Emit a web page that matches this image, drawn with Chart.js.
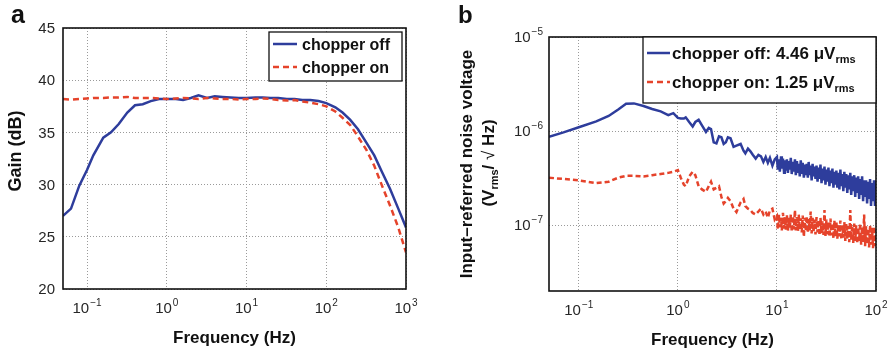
<!DOCTYPE html>
<html>
<head>
<meta charset="utf-8">
<script src="https://cdn.jsdelivr.net/npm/chart.js@4.4.0/dist/chart.umd.min.js"></script>
<style>
  html, body { margin: 0; padding: 0; background: #fff; }
  #wrap { position: relative; width: 892px; height: 354px; overflow: hidden; }
  #gainChart { position: absolute; left: 0; top: 0; }
  #noiseChart { position: absolute; left: 440px; top: 0; }
</style>
</head>
<body>
<div id="wrap">
  <canvas id="gainChart" width="440" height="354"></canvas>
  <canvas id="noiseChart" width="452" height="354"></canvas>
</div>
<script>
// ---------- DATA: panel a (gain) ----------
const gainFreq = [0.05, 0.063, 0.08, 0.1, 0.12, 0.16, 0.2, 0.25, 0.32, 0.4,
    0.5, 0.63, 0.8, 1, 1.3, 1.6, 2, 2.5, 3.2, 4,
    5, 6.3, 8, 10, 13, 16, 20, 25, 32, 40,
    50, 63, 80, 100, 130, 160, 200, 250, 320, 400,
    500, 630, 800, 1000];
const gainOff = [27.0, 27.7, 29.9, 31.4, 32.8, 34.5, 35.0, 35.8, 36.9, 37.6,
    37.7, 38.0, 38.2, 38.2, 38.2, 38.1, 38.3, 38.55, 38.3, 38.45,
    38.4, 38.35, 38.3, 38.3, 38.35, 38.35, 38.3, 38.3, 38.2, 38.2,
    38.1, 38.1, 38.0, 37.8, 37.4, 36.9, 36.2, 35.3, 34.0, 32.8,
    31.2, 29.6, 27.7, 25.9];
const gainOn = [38.2, 38.15, 38.2, 38.25, 38.3, 38.3, 38.35, 38.35, 38.4, 38.3,
    38.3, 38.3, 38.25, 38.2, 38.25, 38.3, 38.25, 38.2, 38.3, 38.25,
    38.2, 38.2, 38.15, 38.2, 38.2, 38.25, 38.2, 38.1, 38.05, 38.1,
    37.95, 37.85, 37.7, 37.5, 37.0, 36.4, 35.7, 34.6, 33.3, 31.8,
    29.9, 28.0, 25.9, 23.5];
const gainTicksX = [0.1, 1, 10, 100, 1000];
const gainTickExp = ["\u22121", "0", "1", "2", "3"];
const gainTicksY = [20, 25, 30, 35, 40, 45];

// ---------- DATA: panel b (noise) ----------
const noiseFreq = [0.05, 0.07, 0.1, 0.15, 0.2, 0.25, 0.3, 0.36, 0.45, 0.55,
    0.67, 0.8, 0.9, 1.0, 1.07, 1.15, 1.2, 1.3, 1.41, 1.5,
    1.62, 1.75, 1.92, 2.05, 2.16, 2.3, 2.45, 2.6, 2.75, 2.9,
    3.05, 3.2, 3.4, 3.65, 3.9, 4.3, 4.6, 4.8, 5.1, 5.4,
    5.7, 6.1, 6.5, 6.9, 7.3, 7.7, 8.1, 8.5, 9.0, 9.5,
    10, 10.2, 10.5, 10.7, 11, 11.2, 11.5, 11.8, 12, 12.3,
    12.6, 12.9, 13.2, 13.5, 13.8, 14.1, 14.5, 14.8, 15.2, 15.5,
    15.9, 16.3, 16.6, 17, 17.4, 17.8, 18.2, 18.7, 19.1, 19.5,
    20, 20.5, 20.9, 21.4, 21.9, 22.4, 22.9, 23.4, 24, 24.5,
    25.1, 25.7, 26.3, 26.9, 27.5, 28.2, 28.8, 29.5, 30.2, 30.9,
    31.6, 32.4, 33.1, 33.9, 34.7, 35.5, 36.3, 37.2, 38, 38.9,
    39.8, 40.7, 41.7, 42.7, 43.7, 44.7, 45.7, 46.8, 47.9, 49,
    50.1, 51.3, 52.5, 53.7, 55, 56.2, 57.5, 58.9, 60.3, 61.7,
    63.1, 64.6, 66.1, 67.6, 69.2, 70.8, 72.4, 74.1, 75.9, 77.6,
    79.4, 81.3, 83.2, 85.1, 87.1, 89.1, 91.2, 93.3, 95.5, 97.7,
    100];
const noiseOff = [8.7e-7, 9.7e-7, 1.1e-6, 1.27e-6, 1.45e-6, 1.7e-6, 1.95e-6, 1.97e-6, 1.85e-6, 1.72e-6,
    1.62e-6, 1.48e-6, 1.55e-6, 1.38e-6, 1.36e-6, 1.36e-6, 1.4e-6, 1.25e-6, 1.12e-6, 1.25e-6,
    1.32e-6, 1.15e-6, 9.8e-7, 1.08e-6, 1.05e-6, 7.6e-7, 7.4e-7, 8.8e-7, 8.6e-7, 7.3e-7,
    7.6e-7, 8.6e-7, 8.4e-7, 6.8e-7, 7.0e-7, 7.3e-7, 6.2e-7, 5.8e-7, 6.5e-7, 6.1e-7,
    5.6e-7, 5.1e-7, 5.6e-7, 5.4e-7, 4.7e-7, 5.3e-7, 4.6e-7, 5.2e-7, 4.3e-7, 5.0e-7,
    5.3e-7, 3.9e-7, 5.0e-7, 3.7e-7, 5.4e-7, 4.0e-7, 5.1e-7, 3.6e-7, 4.9e-7, 3.8e-7,
    5.0e-7, 3.6e-7, 4.8e-7, 3.9e-7, 5.2e-7, 3.5e-7, 4.7e-7, 3.7e-7, 5.0e-7, 3.4e-7,
    4.8e-7, 3.6e-7, 4.5e-7, 3.3e-7, 4.9e-7, 3.5e-7, 4.6e-7, 3.2e-7, 4.4e-7, 3.4e-7,
    4.5e-7, 3.2e-7, 4.7e-7, 3.4e-7, 4.3e-7, 3.0e-7, 4.5e-7, 3.3e-7, 4.2e-7, 3.1e-7,
    4.3e-7, 2.9e-7, 4.1e-7, 3.1e-7, 4.4e-7, 2.8e-7, 4.0e-7, 3.0e-7, 4.2e-7, 2.7e-7,
    3.9e-7, 2.9e-7, 4.1e-7, 2.6e-7, 3.8e-7, 2.8e-7, 4.0e-7, 2.5e-7, 3.7e-7, 2.7e-7,
    3.8e-7, 2.5e-7, 3.6e-7, 2.4e-7, 3.9e-7, 2.6e-7, 3.5e-7, 2.3e-7, 3.7e-7, 2.5e-7,
    3.5e-7, 2.2e-7, 3.4e-7, 2.4e-7, 3.6e-7, 2.1e-7, 3.3e-7, 2.3e-7, 3.4e-7, 2.0e-7,
    3.2e-7, 2.2e-7, 3.3e-7, 1.9e-7, 3.1e-7, 2.1e-7, 3.3e-7, 1.8e-7, 3.0e-7, 2.0e-7,
    3.0e-7, 1.7e-7, 2.9e-7, 1.9e-7, 3.1e-7, 1.6e-7, 2.8e-7, 1.8e-7, 3.0e-7, 1.6e-7,
    2.8e-7];
const noiseOn = [3.2e-7, 3.1e-7, 3.0e-7, 2.8e-7, 2.9e-7, 3.2e-7, 3.35e-7, 3.35e-7, 3.3e-7, 3.4e-7,
    3.5e-7, 3.6e-7, 3.7e-7, 3.85e-7, 3.2e-7, 2.7e-7, 2.6e-7, 3.3e-7, 3.7e-7, 3.4e-7,
    2.6e-7, 2.4e-7, 2.26e-7, 2.6e-7, 2.9e-7, 2.4e-7, 2.5e-7, 2.6e-7, 2.0e-7, 1.7e-7,
    1.8e-7, 1.95e-7, 1.8e-7, 1.5e-7, 1.38e-7, 1.75e-7, 1.9e-7, 1.6e-7, 1.5e-7, 1.45e-7,
    1.35e-7, 1.3e-7, 1.4e-7, 1.5e-7, 1.3e-7, 1.4e-7, 1.2e-7, 1.45e-7, 1.5e-7, 1.15e-7,
    1.25e-7, 9.0e-8, 1.3e-7, 9.5e-8, 1.2e-7, 8.8e-8, 1.35e-7, 9.2e-8, 1.22e-7, 9.0e-8,
    1.28e-7, 8.7e-8, 1.2e-7, 9.3e-8, 1.3e-7, 8.5e-8, 1.25e-7, 9.0e-8, 1.45e-7, 8.8e-8,
    1.22e-7, 8.6e-8, 1.3e-7, 9.0e-8, 1.18e-7, 8.4e-8, 1.27e-7, 7.5e-8, 1.2e-7, 8.7e-8,
    1.25e-7, 8.3e-8, 1.17e-7, 8.8e-8, 1.4e-7, 8.2e-8, 1.2e-7, 8.5e-8, 1.15e-7, 8.0e-8,
    1.22e-7, 8.4e-8, 1.13e-7, 7.8e-8, 1.2e-7, 8.2e-8, 1.1e-7, 7.9e-8, 1.45e-7, 7.7e-8,
    1.15e-7, 8.0e-8, 1.08e-7, 7.5e-8, 1.18e-7, 7.8e-8, 1.05e-7, 7.2e-8, 1.12e-7, 7.6e-8,
    1.1e-7, 7.2e-8, 1.03e-7, 7.6e-8, 1.12e-7, 7.0e-8, 1.0e-7, 7.4e-8, 1.08e-7, 6.8e-8,
    1.05e-7, 7.2e-8, 9.8e-8, 6.6e-8, 1.45e-7, 7.0e-8, 1.0e-7, 6.5e-8, 1.04e-7, 6.8e-8,
    1.0e-7, 6.4e-8, 9.5e-8, 6.8e-8, 1.05e-7, 6.2e-8, 9.6e-8, 6.6e-8, 1.3e-7, 6.0e-8,
    9.8e-8, 6.3e-8, 9.2e-8, 5.8e-8, 1.0e-7, 6.2e-8, 9.4e-8, 5.7e-8, 9.7e-8, 6.0e-8,
    9.0e-8];
const noiseTicksX = [0.1, 1, 10, 100];
const noiseTickExpX = ["\u22121", "0", "1", "2"];
const noiseTicksY = [1e-7, 1e-6, 1e-5];
const noiseTickExpY = ["\u22127", "\u22126", "\u22125"];

// ---------- STYLE ----------
const FONT = '"Liberation Sans", Arial, Helvetica, sans-serif';
const BLUE = "#2e3d9c";
const RED = "#e5432b";
const GRID = "#9a9a9a";
const TXT = "#262626";

// ---------- HELPERS ----------
function pairs(xs, ys) {
    return xs.map((x, i) => ({ x: x, y: ys[i] }));
}

// "10" with raised exponent; align = "center" or "right"
function drawPow(ctx, exp, x, y, align) {
    ctx.font = "15px " + FONT;
    const wb = ctx.measureText("10").width;
    ctx.font = "10px " + FONT;
    const we = ctx.measureText(exp).width;
    const total = wb + we + 1;
    const left = align === "right" ? x - total : x - total / 2;
    ctx.textAlign = "left";
    ctx.textBaseline = "alphabetic";
    ctx.font = "15px " + FONT;
    ctx.fillText("10", left, y);
    ctx.font = "10px " + FONT;
    ctx.fillText(exp, left + wb + 1, y - 7);
}

// pieces: [{t, size, weight, dy}] drawn in a row starting at x
function pieceWidth(ctx, pieces) {
    let w = 0;
    pieces.forEach(p => {
        ctx.font = (p.weight || "bold") + " " + p.size + "px " + FONT;
        w += ctx.measureText(p.t).width;
    });
    return w;
}
function drawPieces(ctx, pieces, x, y) {
    ctx.textAlign = "left";
    ctx.textBaseline = "alphabetic";
    pieces.forEach(p => {
        ctx.font = (p.weight || "bold") + " " + p.size + "px " + FONT;
        ctx.fillText(p.t, x, y + (p.dy || 0));
        x += ctx.measureText(p.t).width;
    });
}

function drawFrame(chart) {
    const { ctx, chartArea: a } = chart;
    ctx.save();
    ctx.strokeStyle = "#111";
    ctx.lineWidth = 1.6;
    ctx.strokeRect(a.left, a.top, a.right - a.left, a.bottom - a.top);
    ctx.restore();
}

function drawLegend(ctx, box, rows, size) {
    ctx.save();
    ctx.fillStyle = "#fff";
    ctx.fillRect(box.x, box.y, box.w, box.h);
    ctx.strokeStyle = "#111";
    ctx.lineWidth = 1.3;
    ctx.strokeRect(box.x, box.y, box.w, box.h);
    rows.forEach(r => {
        ctx.beginPath();
        ctx.strokeStyle = r.color;
        ctx.lineWidth = 2.5;
        ctx.setLineDash(r.dash);
        ctx.moveTo(box.sx0, r.y);
        ctx.lineTo(box.sx1, r.y);
        ctx.stroke();
        ctx.setLineDash([]);
        ctx.fillStyle = "#111";
        drawPieces(ctx, r.pieces, box.tx, r.y + size * 0.36);
    });
    ctx.restore();
}

// ---------- PANEL A DECOR ----------
const gainDecor = {
    id: "gainDecor",
    afterDraw(chart) {
        const { ctx, chartArea: a, scales } = chart;
        drawFrame(chart);
        ctx.save();
        ctx.fillStyle = TXT;

        // y tick labels
        ctx.font = "15px " + FONT;
        ctx.textAlign = "right";
        ctx.textBaseline = "middle";
        gainTicksY.forEach(v => {
            ctx.fillText(String(v), a.left - 8, scales.y.getPixelForValue(v) + 1);
        });
        // x tick labels
        gainTicksX.forEach((v, i) => {
            drawPow(ctx, gainTickExp[i], scales.x.getPixelForValue(v), a.bottom + 24, "center");
        });

        // axis titles
        ctx.fillStyle = "#111";
        ctx.font = "bold 17px " + FONT;
        ctx.textAlign = "center";
        ctx.textBaseline = "middle";
        ctx.fillText("Frequency (Hz)", (a.left + a.right) / 2, 338);
        ctx.save();
        ctx.translate(16, 151);
        ctx.rotate(-Math.PI / 2);
        ctx.font = "bold 18px " + FONT;
        ctx.fillText("Gain (dB)", 0, 0);
        ctx.restore();

        // panel letter
        ctx.font = "bold 25px " + FONT;
        ctx.textAlign = "left";
        ctx.textBaseline = "alphabetic";
        ctx.fillText("a", 11, 23);

        // legend
        drawLegend(ctx, { x: 269, y: 32, w: 133, h: 49, sx0: 273, sx1: 297, tx: 302 }, [
            { y: 44, color: BLUE, dash: [], pieces: [{ t: "chopper off", size: 16 }] },
            { y: 67, color: RED, dash: [6, 4], pieces: [{ t: "chopper on", size: 16 }] }
        ], 16);
        ctx.restore();
    }
};

// ---------- PANEL B DECOR ----------
const noiseDecor = {
    id: "noiseDecor",
    afterDraw(chart) {
        const { ctx, chartArea: a, scales } = chart;
        drawFrame(chart);
        ctx.save();
        ctx.fillStyle = TXT;

        noiseTicksY.forEach((v, i) => {
            drawPow(ctx, noiseTickExpY[i], a.left - 6, scales.y.getPixelForValue(v) + 5, "right");
        });
        noiseTicksX.forEach((v, i) => {
            drawPow(ctx, noiseTickExpX[i], scales.x.getPixelForValue(v), a.bottom + 24, "center");
        });

        ctx.fillStyle = "#111";
        ctx.font = "bold 17px " + FONT;
        ctx.textAlign = "center";
        ctx.textBaseline = "middle";
        ctx.fillText("Frequency (Hz)", (a.left + a.right) / 2, 340);

        // y title, two lines, rotated
        ctx.save();
        ctx.translate(27, 164);
        ctx.rotate(-Math.PI / 2);
        ctx.fillText("Input\u2013referred noise voltage", 0, 0);
        ctx.restore();

        const line2 = [
            { t: "(V", size: 17 },
            { t: "rms", size: 11, dy: 4 },
            { t: "/ ", size: 17 },
            { t: "\u221A", size: 17, weight: "normal" },
            { t: " Hz)", size: 17 }
        ];
        ctx.save();
        ctx.translate(48, 163);
        ctx.rotate(-Math.PI / 2);
        drawPieces(ctx, line2, -pieceWidth(ctx, line2) / 2, 6);
        ctx.restore();

        ctx.font = "bold 24px " + FONT;
        ctx.textAlign = "left";
        ctx.textBaseline = "alphabetic";
        ctx.fillText("b", 18, 23);

        drawLegend(ctx, { x: 203, y: a.top, w: a.right - 203, h: 66, sx0: 207, sx1: 230, tx: 232 }, [
            { y: 53, color: BLUE, dash: [], pieces: [
                { t: "chopper off: 4.46 \u03BCV", size: 17 }, { t: "rms", size: 11, dy: 4 }] },
            { y: 82, color: RED, dash: [6, 4], pieces: [
                { t: "chopper on: 1.25 \u03BCV", size: 17 }, { t: "rms", size: 11, dy: 4 }] }
        ], 17);
        ctx.restore();
    }
};

// ---------- COMMON AXIS ----------
function logAxis(min, max, ticks) {
    return {
        type: "logarithmic",
        min: min,
        max: max,
        afterBuildTicks: s => { s.ticks = ticks.map(v => ({ value: v })); },
        ticks: { display: false },
        grid: { color: GRID, lineWidth: 1, drawTicks: false },
        border: { display: false, dash: [1, 2] }
    };
}

function lineSet(label, data, color, dash, order) {
    return {
        label: label,
        data: data,
        borderColor: color,
        borderWidth: 2.5,
        borderDash: dash,
        pointRadius: 0,
        tension: 0,
        fill: false,
        order: order
    };
}

// ---------- PANEL A ----------
new Chart(document.getElementById("gainChart").getContext("2d"), {
    type: "line",
    data: {
        datasets: [
            lineSet("chopper off", pairs(gainFreq, gainOff), BLUE, [], 1),
            lineSet("chopper on", pairs(gainFreq, gainOn), RED, [6, 4], 0)
        ]
    },
    options: {
        responsive: false,
        animation: false,
        layout: { padding: { left: 63, top: 28, right: 34, bottom: 65 } },
        plugins: { legend: { display: false }, tooltip: { enabled: false } },
        scales: {
            x: logAxis(0.05, 1000, gainTicksX),
            y: {
                type: "linear",
                min: 20,
                max: 45,
                afterBuildTicks: s => { s.ticks = gainTicksY.map(v => ({ value: v })); },
                ticks: { display: false },
                grid: { color: GRID, lineWidth: 1, drawTicks: false },
                border: { display: false, dash: [1, 2] }
            }
        }
    },
    plugins: [gainDecor]
});

// ---------- PANEL B ----------
new Chart(document.getElementById("noiseChart").getContext("2d"), {
    type: "line",
    data: {
        datasets: [
            lineSet("chopper off", pairs(noiseFreq, noiseOff), BLUE, [], 1),
            lineSet("chopper on", pairs(noiseFreq, noiseOn), RED, [5, 3], 0)
        ]
    },
    options: {
        responsive: false,
        animation: false,
        layout: { padding: { left: 109, top: 37, right: 16, bottom: 63 } },
        plugins: { legend: { display: false }, tooltip: { enabled: false } },
        scales: {
            x: logAxis(0.05, 100, noiseTicksX),
            y: logAxis(2e-8, 1e-5, noiseTicksY)
        }
    },
    plugins: [noiseDecor]
});
</script>
</body>
</html>
